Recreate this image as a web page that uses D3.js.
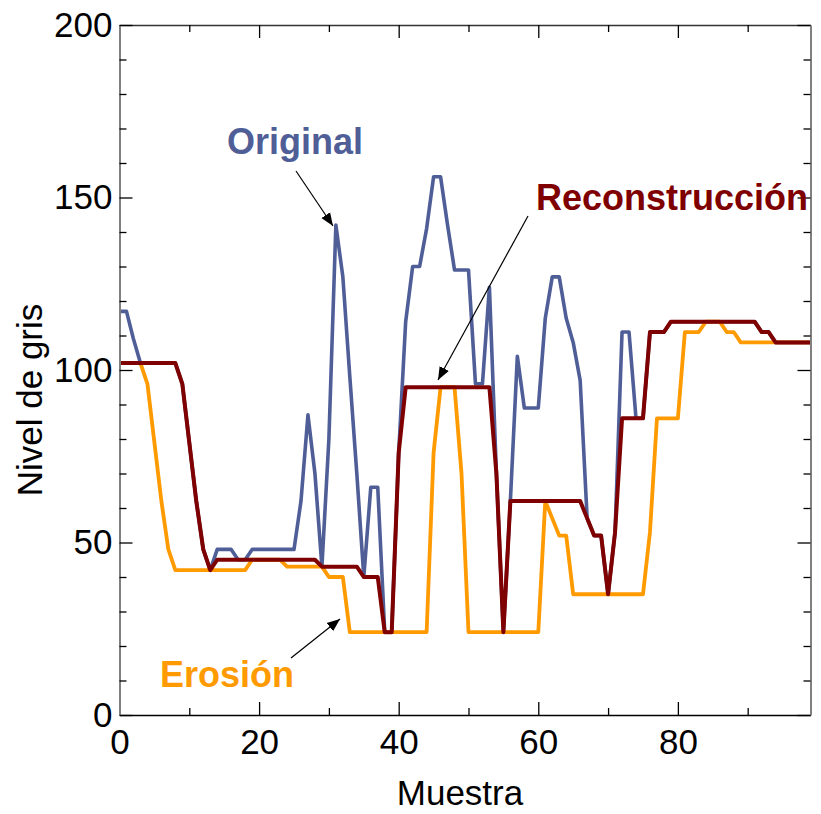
<!DOCTYPE html>
<html><head><meta charset="utf-8">
<script src="https://cdn.jsdelivr.net/npm/d3@7"></script>
<style>body{margin:0;background:#fff}svg{display:block}text{font-family:"Liberation Sans",Arial,sans-serif}</style>
</head><body>
<svg id="c" width="821" height="814"></svg>
<script>
// Data: sample index 0..99
const samples = d3.range(100);
const original = [117,117,109,102,102,102,102,102,102,96,79,62,48,42,48,48,48,45,45,48,
  48,48,48,48,48,48,62,87,70,43,80,142,127,98,70,40,66,66,24,24,
  76,114,130,130,141,156,156,142,129,129,129,96,96,124,70,24,62,104,89,89,
  89,115,127,127,115,108,97,57,52,52,35,53,111,111,86,86,111,111,111,114,
  114,114,114,114,114,114,114,114,114,114,114,114,111,111,108,108,108,108,108,108];
const erosion = [102,102,102,102,96,79,62,48,42,42,42,42,42,42,42,42,42,42,42,45,
  45,45,45,45,43,43,43,43,43,43,40,40,40,24,24,24,24,24,24,24,
  24,24,24,24,24,76,95,95,95,70,24,24,24,24,24,24,24,24,24,24,
  24,62,57,52,52,35,35,35,35,35,35,35,35,35,35,35,53,86,86,86,
  86,111,111,111,114,114,114,111,111,108,108,108,108,108,108,108,108,108,108,108];
const reconstruction = [102,102,102,102,102,102,102,102,102,96,79,62,48,42,45,45,45,45,45,45,
  45,45,45,45,45,45,45,45,45,43,43,43,43,43,43,40,40,40,24,24,
  76,95,95,95,95,95,95,95,95,95,95,95,95,95,70,24,62,62,62,62,
  62,62,62,62,62,62,62,57,52,52,35,53,86,86,86,86,111,111,111,114,
  114,114,114,114,114,114,114,114,114,114,114,114,111,111,108,108,108,108,108,108];
const xMajorTicks = [0,20,40,60,80];
const xMinorTicks = [10,30,50,70,90];
const yMajorTicks = [0,50,100,150,200];
const yMinorTicks = [10,20,30,40,60,70,80,90,110,120,130,140,160,170,180,190];
const xTitle = "Muestra";
const yTitle = "Nivel de gris";
const seriesNames = ["Original","Erosión","Reconstrucción"];
const seriesColors = ["#4F5E97","#FF9A00","#7F0000"];

const svg = d3.select("#c");
const L=119.5, R=810.5, T=25, B=715;
const x = d3.scaleLinear().domain([0,99]).range([L,R]);
const y = d3.scaleLinear().domain([0,200]).range([B,T]);

// lines
const line = d3.line().x((d,i)=>x(samples[i])).y(d=>y(d));
const order = [[original,0,3.6],[erosion,1,3.8],[reconstruction,2,4]];
order.forEach(([arr,ci,w])=>{
  svg.append("path").attr("d",line(arr)).attr("fill","none")
    .attr("stroke",seriesColors[ci]).attr("stroke-width",w)
    .attr("stroke-linejoin","round").attr("stroke-linecap","butt");
});

// axes
function styleAxis(g){ g.selectAll(".tick line").attr("stroke","#000").attr("stroke-width",1.3); }
const fs = 35;
// bottom
let g = svg.append("g").attr("transform",`translate(0,${B})`)
  .call(d3.axisBottom(x).tickValues(xMajorTicks).tickSizeInner(-13).tickSizeOuter(0).tickPadding(14).tickFormat(d3.format("d")));
g.select(".domain").attr("stroke","#000").attr("stroke-width",1.5);
g.selectAll("text").attr("font-size",fs).attr("fill","#000");
styleAxis(g);
g = svg.append("g").attr("transform",`translate(0,${B})`)
  .call(d3.axisBottom(x).tickValues(xMinorTicks).tickSizeInner(-7).tickSizeOuter(0).tickFormat(""));
g.select(".domain").remove(); styleAxis(g);
// top
g = svg.append("g").attr("transform",`translate(0,${T})`)
  .call(d3.axisTop(x).tickValues(xMajorTicks).tickSizeInner(-13).tickSizeOuter(0).tickFormat(""));
g.select(".domain").attr("stroke","#333").attr("stroke-width",1.5);
styleAxis(g);
g = svg.append("g").attr("transform",`translate(0,${T})`)
  .call(d3.axisTop(x).tickValues(xMinorTicks).tickSizeInner(-7).tickSizeOuter(0).tickFormat(""));
g.select(".domain").remove(); styleAxis(g);
// left
g = svg.append("g").attr("transform",`translate(${L},0)`)
  .call(d3.axisLeft(y).tickValues(yMajorTicks).tickSizeInner(-13).tickSizeOuter(0).tickPadding(7).tickFormat(d3.format("d")));
g.select(".domain").attr("stroke","#808080").attr("stroke-width",2);
g.selectAll("text").attr("font-size",fs).attr("fill","#000");
styleAxis(g);
g = svg.append("g").attr("transform",`translate(${L},0)`)
  .call(d3.axisLeft(y).tickValues(yMinorTicks).tickSizeInner(-7).tickSizeOuter(0).tickFormat(""));
g.select(".domain").remove(); styleAxis(g);
// right
g = svg.append("g").attr("transform",`translate(${R},0)`)
  .call(d3.axisRight(y).tickValues(yMajorTicks).tickSizeInner(-13).tickSizeOuter(0).tickFormat(""));
g.select(".domain").attr("stroke","#808080").attr("stroke-width",2);
styleAxis(g);
g = svg.append("g").attr("transform",`translate(${R},0)`)
  .call(d3.axisRight(y).tickValues(yMinorTicks).tickSizeInner(-7).tickSizeOuter(0).tickFormat(""));
g.select(".domain").remove(); styleAxis(g);

// titles
svg.append("text").attr("x",460).attr("y",805).attr("text-anchor","middle")
  .attr("font-size",35).text(xTitle);
svg.append("text").attr("transform","translate(42,400) rotate(-90)").attr("text-anchor","middle")
  .attr("font-size",35).text(yTitle);

// annotations
svg.append("defs").append("marker").attr("id","ah").attr("viewBox","0 0 10 10")
  .attr("refX",10).attr("refY",5).attr("markerWidth",13).attr("markerHeight",13)
  .attr("markerUnits","userSpaceOnUse").attr("orient","auto")
  .append("path").attr("d","M0,1 L10,5 L0,9 z").attr("fill","#000");
const ann = [
  {t:seriesNames[0], c:seriesColors[0], tx:295, ty:154, anchor:"middle", x1:296, y1:171, x2:333, y2:226},
  {t:seriesNames[2], c:seriesColors[2], tx:536, ty:210, anchor:"start", x1:528, y1:216, x2:438, y2:380},
  {t:seriesNames[1], c:seriesColors[1], tx:227, ty:687, anchor:"middle", x1:291, y1:658, x2:340, y2:619}
];
ann.forEach(a=>{
  svg.append("line").attr("x1",a.x1).attr("y1",a.y1).attr("x2",a.x2).attr("y2",a.y2)
    .attr("stroke","#000").attr("stroke-width",1.2).attr("marker-end","url(#ah)");
  svg.append("text").attr("x",a.tx).attr("y",a.ty).attr("text-anchor",a.anchor)
    .attr("font-size",36).attr("font-weight","bold").attr("fill",a.c).text(a.t);
});
</script>
</body></html>
